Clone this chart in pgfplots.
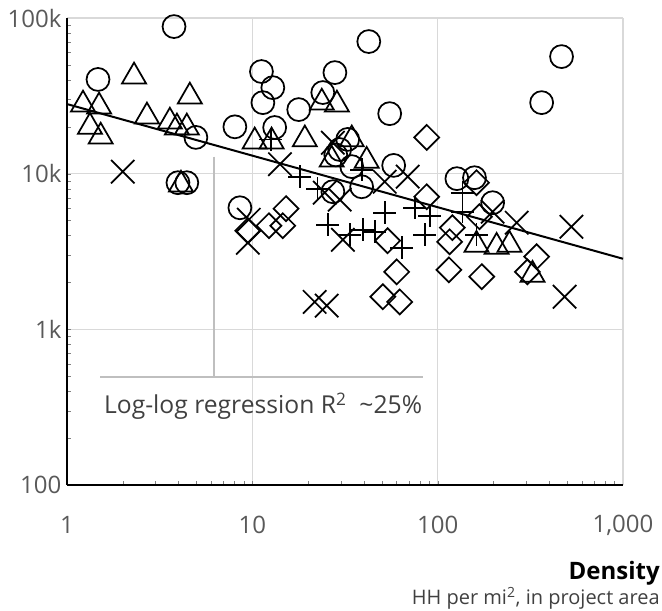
\documentclass[border=0pt]{standalone}
\usepackage{fontspec}
\setmainfont{Open Sans}
\usepackage{pgfplots}
\pgfplotsset{compat=1.18}

\definecolor{gridgray}{HTML}{D9D9D9}
\definecolor{ticktext}{HTML}{595959}
\definecolor{annogray}{HTML}{BFBFBF}
\definecolor{labeltext}{HTML}{404040}

\pgfplotsset{
  pts/.style={only marks, mark options={draw=black, line width=1.3pt, fill=none, solid}},
}

\begin{document}
\begin{tikzpicture}
\begin{axis}[
  name=ax,
  scale only axis,
  width=417pt, height=350.25pt,
  xmode=log, ymode=log,
  xmin=1, xmax=1000,
  ymin=100, ymax=100000,
  xtick={1,10,100,1000},
  xticklabels={1,10,100,{1,000}},
  ytick={100,1000,10000,100000},
  yticklabels={100,1k,10k,100k},
  minor xtick={}, minor ytick={},
  major tick length=0pt,
  axis x line*=bottom, axis y line*=left,
  axis line style={black, line width=1.5pt, -},
  grid=major,
  major grid style={draw=gridgray, line width=0.8pt},
  /pgf/number format/assume math mode=true,
  tick label style={font=\fontsize{18}{21}\selectfont, text=ticktext},
  xticklabel style={anchor=center, yshift=-30pt},
  yticklabel style={anchor=east, inner sep=0pt, xshift=-4pt},
  clip=false,
]

% annotation bracket
\draw[annogray, line width=1.5pt] (axis cs:1.51,495) -- (axis cs:83,495);
\draw[annogray, line width=1.5pt] (axis cs:6.2,12850) -- (axis cs:6.2,495);
\node[anchor=west, inner sep=0pt, text=labeltext, font=\fontsize{18.5}{22}\selectfont]
  at (axis cs:1.58,320) {Log-log regression R\textsuperscript{2}\ \ \textasciitilde25\%};

% circles
\addplot[pts, mark=o, mark size=8.6pt] coordinates {
  (3.78,88100) (1.47,40300) (4.96,17100) (3.97,8750) (4.43,8750)
  (8.57,6040) (11.2,45300) (11.4,28600) (12.9,35700) (13.2,19800)
  (17.8,25800) (8.05,20000) (24.0,33200) (27.9,44600) (42.5,70600)
  (55.1,24300) (466,56500) (364,28600) (57.9,11300) (32.7,16600)
  (29.6,14300) (28.2,13200) (34.4,11100) (27.2,7660) (38.9,8240)
  (127,9290) (158,9420) (198,6510)
};

% triangles
\addplot[pts, mark=triangle, mark size=10.4pt] coordinates {
  (1.22,27800) (1.49,27000) (1.33,20000) (1.52,17300) (2.30,42100)
  (2.70,23300) (3.59,21600) (3.92,19800) (4.43,19800) (4.60,31300)
  (4.12,8500) (10.3,16100) (12.7,16100) (19.2,16600) (23.7,28600)
  (28.6,27800) (26.8,12300) (41.4,12100) (34.4,16600) (162,3490)
  (208,3390) (244,3490) (325,2240)
};

% crosses
\addplot[pts, mark=x, mark size=12.4pt] coordinates {
  (2.0,10300) (14.1,11500) (9.57,5060) (9.46,3600) (21.7,1500)
  (25.2,1420) (27.2,15800) (68.9,9570) (51.8,8880) (29.6,6810)
  (30.8,3760) (267,4840) (527,4560) (484,1620) (198,5700)
  (24.6,7550)
};

% plus signs
\addplot[pts, mark=+, mark size=8.6pt] coordinates {
  (12.6,16600) (18.0,9570) (22.5,8010) (38.9,10600) (25.5,4700)
  (33.6,4050) (39.4,4360) (45.7,4240) (51.8,5610) (64.0,3340)
  (75.2,6040) (85.1,4050) (90.6,5370) (136,7550) (136,5700)
  (162,4050)
};

% diamonds
\addplot[only marks, mark=square, mark size=6.6pt,
  mark options={draw=black, line width=1.3pt, fill=none, solid, rotate=45}] coordinates {
  (9.46,4300) (12.3,4630) (15.2,5960) (14.6,4630) (87.3,17100)
  (87.3,7110) (53.7,3710) (60.1,2340) (50.6,1620) (62.4,1500)
  (116,3650) (120,4500) (115,2410) (173,2180) (342,2930)
  (305,2340) (168,5290) (162,8750)
};

% log-log regression line
\addplot[black, line width=1.5pt, no marks] coordinates {(1,28000) (1000,2840)};

\end{axis}

\node[anchor=east, inner sep=0pt, font=\bfseries\fontsize{18}{21}\selectfont]
  at ([xshift=27.75pt, yshift=-66pt]ax.south east) {Density};
\node[anchor=east, inner sep=0pt, text=labeltext, font=\fontsize{15}{18}\selectfont]
  at ([xshift=27.75pt, yshift=-84.75pt]ax.south east) {HH per mi\textsuperscript{2}, in project area};

\path ([xshift=-50.25pt, yshift=-94.5pt]ax.south west) rectangle ++(496.5pt,458.25pt);
\end{tikzpicture}
\end{document}
